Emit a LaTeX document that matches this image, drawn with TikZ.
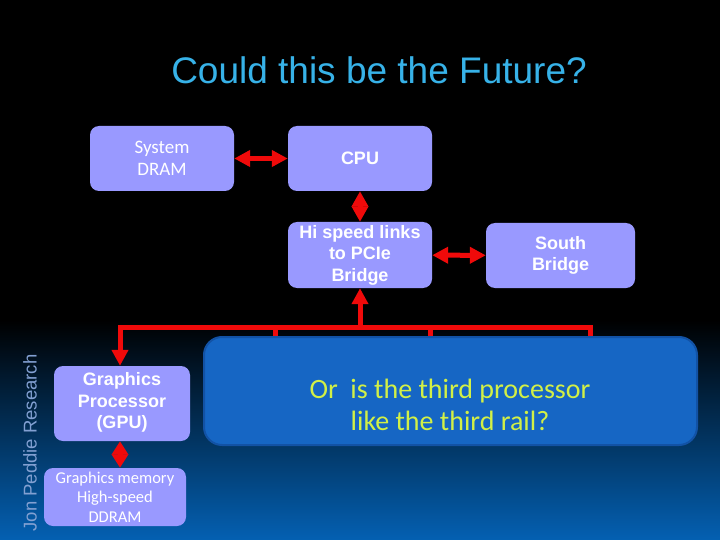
\documentclass[tikz,border=0pt]{standalone}
\usepackage{fontspec}
\setmainfont{Liberation Sans}
\newfontfamily\calfont{Carlito}
\usetikzlibrary{arrows.meta}
\definecolor{boxblue}{RGB}{153,153,255}
\definecolor{railred}{RGB}{240,10,10}
\definecolor{deepblue}{RGB}{22,102,196}
\definecolor{deepedge}{RGB}{18,82,165}
\definecolor{titlecyan}{RGB}{55,178,232}
\definecolor{limetext}{RGB}{210,240,70}
\definecolor{slidebot}{RGB}{4,96,178}
\definecolor{sidegrey}{RGB}{130,160,210}
\tikzset{
  box/.style={rectangle,rounded corners=9pt,fill=boxblue,text=white,align=center,inner sep=0pt},
  arial/.style={font=\bfseries\fontsize{18}{21.5}\selectfont},
  calibri/.style={font=\calfont\fontsize{19}{22}\selectfont},
  rail/.style={draw=railred,line width=5pt},
  railtip/.tip={Triangle[length=16pt,width=16pt]},
  halftip/.tip={Triangle[length=15.5pt,width=16pt]}
}
\begin{document}
\begin{tikzpicture}[x=1pt,y=-1pt]
\useasboundingbox (0,0) rectangle (720,540);
\fill[black] (0,0) rectangle (720,320);
\shade[top color=black,bottom color=slidebot] (0,320) rectangle (720,540);
\node[text=titlecyan,font=\fontsize{37}{40}\selectfont] (title) at (379,70) {Could this be the Future?};
\node[text=sidegrey,rotate=90,font=\fontsize{18.5}{20}\selectfont] (jpr) at (30,443) {Jon Peddie Research};
\node[box,calibri,minimum width=144pt,minimum height=65pt] (dram) at (162,158.5) {System\\DRAM};
\node[box,arial,minimum width=144pt,minimum height=65pt] (cpu) at (360,158.5) {CPU};
\node[box,arial,minimum width=144pt,minimum height=66pt] (hsl) at (360,255) {Hi speed links\\to PCIe\\Bridge};
\node[box,arial,minimum width=149pt,minimum height=65pt] (sb) at (560.5,255.5) {South\\Bridge};
\node[box,arial,minimum width=136pt,minimum height=75pt,text depth=6pt] (gpu) at (122,403.5) {Graphics\\Processor\\(GPU)};
\node[box,calibri,font=\calfont\fontsize{16.5}{19.5}\selectfont,minimum width=142pt,minimum height=58pt] (gmem) at (115,497) {Graphics memory\\High-speed\\DDRAM};
\node[rectangle,rounded corners=18pt,fill=deepblue,draw=deepedge,line width=2pt,minimum width=493pt,minimum height=108pt] (third) at (450.5,391) {};
\node[text=limetext,align=center,font=\calfont\fontsize{28}{32}\selectfont] (q) at (450,405) {Or\ \ is the third processor\\like the third rail?};
\coordinate (bus) at (360,327);
\coordinate (busL) at (120,327);
\coordinate (b1) at (275,327);
\coordinate (b2) at (430,327);
\coordinate (b3) at (590,327);
% links
\draw[rail,{railtip}-{railtip}] (dram) -- (cpu);
\draw[rail,{halftip}-{halftip}] (cpu) -- (hsl);
\draw[rail,{railtip}-{railtip}] (hsl) -- (sb);
\draw[rail,-{railtip}] (bus) -- (hsl);
\draw[rail,{halftip[length=13.5pt]}-{halftip[length=13.5pt]}] (busL |- gpu.south) -- (busL |- gmem.north);
\draw[rail,line cap=rect] (b3) -- (busL);
\draw[rail,-{railtip}] (busL) -- (busL |- gpu.north);
\foreach \b in {b1,b2,b3}
  \draw[rail] (\b) -- (\b |- third.north);
\end{tikzpicture}
\end{document}
